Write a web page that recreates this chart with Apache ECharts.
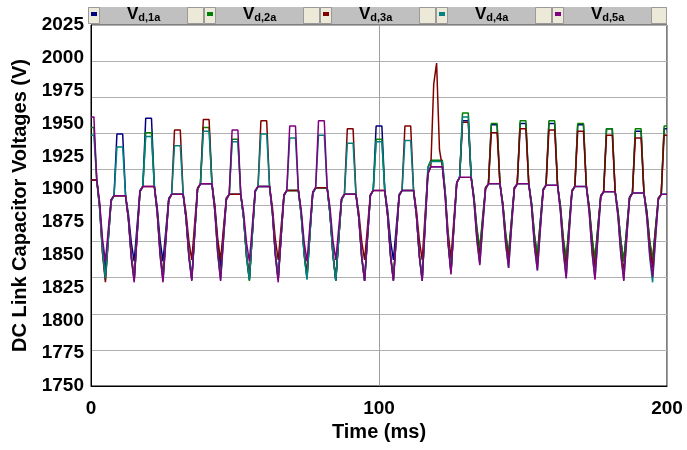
<!DOCTYPE html>
<html>
<head>
<meta charset="utf-8">
<script src="https://cdn.jsdelivr.net/npm/echarts@6/dist/echarts.min.js"></script>
<style>
  html, body { margin: 0; padding: 0; background: #fff; }
  #main { width: 687px; height: 450px; }
</style>
</head>
<body>
<div id="main"></div>
<script>
// sampled every 1 ms, 0..200 ms
const SAMPLE_MS = 1;
const seriesNames = ['Vd,1a', 'Vd,2a', 'Vd,3a', 'Vd,4a', 'Vd,5a'];
const seriesColors = ['#000080', '#008000', '#800000', '#008080', '#800080'];

const vd1a = [
  1907,1907,1907,1888,1857,1838,1865,1892,1895,1942,
  1942,1942,1895,1881,1859,1845,1872,1899,1902,1954,
  1954,1954,1902,1886,1861,1845,1869,1893,1896,1896,
  1896,1896,1896,1878,1850,1832,1867,1900,1904,1904,
  1904,1904,1904,1886,1858,1840,1867,1893,1896,1896,
  1896,1896,1896,1878,1849,1831,1865,1898,1902,1902,
  1902,1902,1902,1882,1852,1832,1864,1895,1899,1899,
  1899,1899,1899,1881,1851,1833,1866,1897,1901,1901,
  1901,1901,1901,1881,1851,1831,1862,1892,1896,1896,
  1896,1896,1896,1878,1848,1830,1863,1895,1899,1948,
  1948,1948,1899,1884,1861,1846,1871,1896,1899,1899,
  1899,1899,1899,1880,1850,1831,1872,1912,1917,1917,
  1917,1917,1917,1895,1859,1837,1872,1905,1909,1952,
  1952,1952,1909,1893,1869,1853,1877,1901,1904,1949,
  1949,1949,1904,1889,1865,1850,1876,1901,1904,1950,
  1950,1950,1904,1889,1864,1849,1875,1900,1903,1950,
  1950,1950,1903,1887,1861,1845,1872,1899,1902,1949,
  1949,1949,1902,1886,1862,1846,1871,1895,1898,1946,
  1946,1946,1898,1883,1860,1845,1870,1894,1897,1944,
  1944,1944,1897,1883,1860,1846,1870,1893,1896,1946,
  1946
];

const vd2a = [
  1947,1947,1907,1886,1852,1831,1862,1891,1895,1895,
  1895,1895,1895,1877,1849,1831,1865,1898,1902,1943,
  1943,1943,1902,1882,1852,1832,1863,1892,1896,1896,
  1896,1896,1896,1878,1849,1831,1866,1900,1904,1947,
  1947,1947,1904,1884,1853,1833,1863,1892,1896,1938,
  1938,1938,1896,1878,1848,1830,1865,1898,1902,1902,
  1902,1902,1902,1882,1851,1831,1864,1895,1899,1899,
  1899,1899,1899,1880,1851,1832,1865,1897,1901,1901,
  1901,1901,1901,1881,1851,1831,1862,1892,1896,1896,
  1896,1896,1896,1878,1849,1831,1864,1895,1899,1938,
  1938,1938,1899,1880,1850,1831,1864,1895,1899,1899,
  1899,1899,1899,1880,1850,1831,1875,1917,1922,1922,
  1922,1922,1922,1898,1861,1837,1872,1905,1909,1958,
  1958,1958,1909,1894,1870,1855,1879,1901,1904,1950,
  1950,1950,1904,1889,1866,1851,1876,1901,1904,1952,
  1952,1952,1904,1889,1865,1850,1875,1900,1903,1952,
  1952,1952,1903,1887,1863,1847,1873,1899,1902,1950,
  1950,1950,1902,1887,1862,1847,1871,1895,1898,1946,
  1946,1946,1898,1883,1860,1845,1870,1894,1897,1946,
  1946,1946,1897,1883,1860,1846,1870,1893,1896,1948,
  1948
];

const vd3a = [
  1907,1907,1907,1885,1851,1829,1861,1891,1895,1895,
  1895,1895,1895,1877,1850,1832,1866,1898,1902,1902,
  1902,1902,1902,1883,1853,1834,1864,1892,1896,1945,
  1945,1945,1896,1882,1860,1846,1874,1901,1904,1953,
  1953,1953,1904,1888,1862,1846,1870,1893,1896,1896,
  1896,1896,1896,1878,1851,1833,1866,1898,1902,1952,
  1952,1952,1902,1886,1862,1846,1871,1896,1899,1899,
  1899,1899,1899,1881,1853,1835,1867,1897,1901,1901,
  1901,1901,1901,1881,1850,1830,1862,1892,1896,1946,
  1946,1946,1896,1882,1860,1846,1871,1896,1899,1899,
  1899,1899,1899,1880,1850,1831,1864,1895,1899,1948,
  1948,1948,1899,1884,1861,1846,1880,1913,1917,1980,
  1996,1930,1917,1897,1867,1847,1877,1905,1909,1951,
  1951,1951,1909,1892,1865,1848,1875,1901,1904,1943,
  1943,1943,1904,1888,1862,1846,1874,1901,1904,1946,
  1946,1946,1904,1887,1860,1843,1872,1899,1903,1945,
  1945,1945,1903,1885,1858,1840,1870,1898,1902,1944,
  1944,1944,1902,1885,1857,1840,1868,1895,1898,1941,
  1941,1941,1898,1881,1854,1837,1866,1893,1897,1939,
  1939,1939,1897,1881,1856,1840,1867,1893,1896,1941,
  1941
];

const vd4a = [
  1941,1941,1907,1886,1853,1832,1862,1891,1895,1932,
  1932,1932,1895,1877,1848,1830,1865,1898,1902,1940,
  1940,1940,1902,1882,1850,1830,1862,1892,1896,1933,
  1933,1933,1896,1878,1849,1831,1866,1900,1904,1944,
  1944,1944,1904,1884,1851,1831,1862,1892,1896,1936,
  1936,1936,1896,1878,1849,1831,1865,1898,1902,1942,
  1942,1942,1902,1882,1851,1831,1864,1895,1899,1939,
  1939,1939,1899,1880,1850,1831,1865,1897,1901,1941,
  1941,1941,1901,1881,1850,1830,1862,1892,1896,1935,
  1935,1935,1896,1878,1848,1830,1863,1895,1899,1936,
  1936,1936,1899,1880,1849,1830,1863,1895,1899,1937,
  1937,1937,1899,1880,1849,1830,1874,1916,1921,1921,
  1921,1921,1921,1897,1860,1836,1871,1905,1909,1955,
  1955,1955,1909,1891,1861,1843,1872,1900,1904,1904,
  1904,1904,1904,1886,1858,1840,1871,1900,1904,1904,
  1904,1904,1904,1886,1856,1838,1869,1899,1903,1903,
  1903,1903,1903,1883,1853,1833,1866,1898,1902,1902,
  1902,1902,1902,1882,1852,1832,1864,1894,1898,1898,
  1898,1898,1898,1879,1850,1831,1863,1893,1897,1897,
  1897,1897,1897,1878,1848,1829,1861,1892,1896,1896,
  1896
];

const vd5a = [
  1955,1955,1907,1890,1862,1845,1869,1892,1895,1895,
  1895,1895,1895,1877,1847,1829,1864,1898,1902,1902,
  1902,1902,1902,1882,1849,1829,1861,1892,1896,1896,
  1896,1896,1896,1878,1848,1830,1866,1900,1904,1904,
  1904,1904,1904,1883,1851,1830,1862,1892,1896,1945,
  1945,1945,1896,1882,1859,1845,1872,1899,1902,1902,
  1902,1902,1902,1882,1849,1829,1863,1895,1899,1948,
  1948,1948,1899,1884,1860,1845,1872,1898,1901,1952,
  1952,1952,1901,1886,1861,1846,1870,1893,1896,1896,
  1896,1896,1896,1878,1848,1830,1863,1895,1899,1899,
  1899,1899,1899,1880,1849,1830,1863,1895,1899,1899,
  1899,1899,1899,1880,1849,1830,1872,1912,1917,1917,
  1917,1917,1917,1894,1858,1835,1871,1905,1909,1909,
  1909,1909,1909,1890,1861,1842,1872,1900,1904,1904,
  1904,1904,1904,1886,1858,1840,1871,1900,1904,1904,
  1904,1904,1904,1886,1856,1838,1869,1899,1903,1903,
  1903,1903,1903,1883,1852,1832,1866,1898,1902,1902,
  1902,1902,1902,1882,1851,1831,1863,1894,1898,1898,
  1898,1898,1898,1879,1849,1830,1862,1893,1897,1897,
  1897,1897,1897,1879,1851,1833,1863,1892,1896,1896,
  1896
];

const allSeries = [vd1a, vd2a, vd3a, vd4a, vd5a];

var myChart = echarts.init(document.getElementById('main'), null, { renderer: 'canvas' });

const FONT = '"Liberation Sans", Arial, sans-serif';

// legend strip: each entry is a marker cell, a grey label cell and an empty cell
const stripLeft = 88;
const entryW = 116;
let stripEls = [{
  type: 'rect', shape: { x: stripLeft, y: 7, width: 667 - stripLeft, height: 17 },
  style: { fill: '#c0c0c0' }, z: 0
}];
for (let i = 0; i < 5; i++) {
  let s = stripLeft + entryW * i;
  stripEls.push({
    type: 'rect', shape: { x: s + 0.5, y: 7.5, width: 11, height: 16 },
    style: { fill: '#ece9d8', stroke: '#9a9a9a', lineWidth: 1 }, z: 0
  });
  stripEls.push({
    type: 'rect', shape: { x: s + 99.5, y: 7.5, width: Math.min(16, 666 - s - 99), height: 16 },
    style: { fill: '#ece9d8', stroke: '#9a9a9a', lineWidth: 1 }, z: 0
  });
}

let legends = seriesNames.map(function (name, i) {
  return {
    data: [name],
    left: stripLeft + entryW * i + 3,
    top: 5,
    icon: 'rect',
    itemWidth: 6,
    itemHeight: 4,
    itemGap: 0,
    selectedMode: false,
    padding: 0,
    formatter: function (n) {
      return '{v|V}{s|' + n.slice(1) + '}';
    },
    textStyle: {
      padding: [0, 0, 0, 25],
      rich: {
        v: { fontFamily: FONT, fontWeight: 'bold', fontSize: 17, color: '#000', lineHeight: 18 },
        s: { fontFamily: FONT, fontWeight: 'bold', fontSize: 11, color: '#000', lineHeight: 18, padding: [7, 0, 0, 0] }
      }
    }
  };
});

var option = {
  animation: false,
  backgroundColor: '#fff',
  legend: legends,
  graphic: { elements: stripEls },
  grid: {
    left: 91,
    right: 20,
    top: 25,
    bottom: 64,
    show: true,
    borderColor: '#000',
    borderWidth: 1
  },
  xAxis: {
    type: 'value',
    min: 0,
    max: 200,
    interval: 100,
    name: 'Time (ms)',
    nameLocation: 'middle',
    nameGap: 35,
    nameTextStyle: { fontFamily: FONT, fontWeight: 'bold', fontSize: 20, color: '#000' },
    axisLine: { show: true, lineStyle: { color: '#000', width: 1 } },
    axisTick: { show: false },
    axisLabel: { fontFamily: FONT, fontWeight: 'bold', fontSize: 19, color: '#000', margin: 13 },
    splitLine: { show: true, lineStyle: { color: '#a0a0a0', width: 1 } }
  },
  yAxis: [
    {
      type: 'value',
      min: 1750,
      max: 2025,
      interval: 25,
      name: 'DC Link Capacitor Voltages (V)',
      nameLocation: 'middle',
      nameGap: 59,
      nameTextStyle: { fontFamily: FONT, fontWeight: 'bold', fontSize: 20, color: '#000' },
      axisLine: { show: true, lineStyle: { color: '#000', width: 1 } },
      axisTick: { show: false },
      axisLabel: {
        fontFamily: FONT, fontWeight: 'bold', fontSize: 19, color: '#000', margin: 7,
        formatter: function (v) { return String(v); }
      },
      splitLine: { show: false }
    },
    {
      // the plot's gridlines split the range into ten equal parts
      type: 'value',
      min: 0,
      max: 10,
      interval: 1,
      position: 'left',
      axisLine: { show: false },
      axisTick: { show: false },
      axisLabel: { show: false },
      splitLine: { show: true, lineStyle: { color: '#b0b0b0', width: 1 } }
    }
  ],
  series: allSeries.map(function (vals, i) {
    return {
      name: seriesNames[i],
      type: 'line',
      yAxisIndex: 0,
      showSymbol: false,
      symbol: 'none',
      color: seriesColors[i],
      lineStyle: { color: seriesColors[i], width: 1.5 },
      data: vals.map(function (v, j) { return [j * SAMPLE_MS, v]; })
    };
  })
};

myChart.setOption(option);
</script>
</body>
</html>
